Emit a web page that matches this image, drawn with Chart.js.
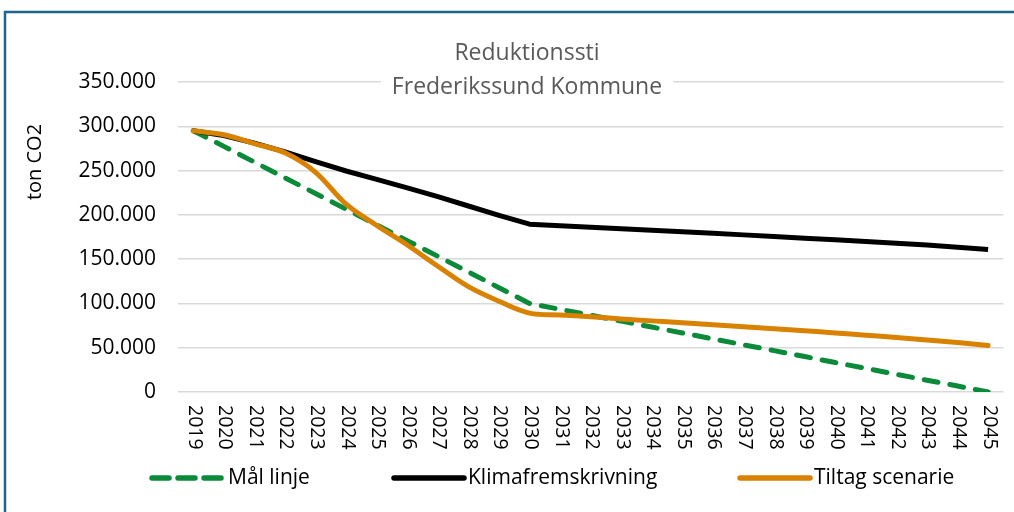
<!DOCTYPE html>
<html><head><meta charset="utf-8">
<script src="https://cdn.jsdelivr.net/npm/chart.js@4/dist/chart.umd.min.js"></script>
<style>html,body{margin:0;padding:0;background:#fff;}#wrap{width:1014px;height:512px;position:relative}</style>
</head><body><div id="wrap"><canvas id="c" width="1014" height="512"></canvas></div>
<script>
const years = ['2019','2020','2021','2022','2023','2024','2025','2026','2027','2028','2029','2030','2031','2032','2033','2034','2035','2036','2037','2038','2039','2040','2041','2042','2043','2044','2045'];
const maalLinje = [295000,277300,259500,241800,224100,206400,188600,170900,153200,135500,117700,100000,93300,86700,80000,73300,66700,60000,53300,46700,40000,33300,26700,20000,13300,6700,0];
const klimafremskrivning = [295000,289500,281000,271000,260000,249500,240000,230500,220500,210000,199500,189500,187800,186100,184400,182700,181000,179200,177400,175600,173700,171800,169900,167900,165900,163500,161000];
const tiltagScenarie = [295000,290500,280500,270000,248000,212000,188000,166000,142000,119000,102500,89000,87000,85000,82500,80300,78100,75900,73700,71400,69100,66700,64200,61600,58800,55800,52500];
const yTickValues = [0,50000,100000,150000,200000,250000,300000,350000];
const titleLines = ['Reduktionssti','Frederikssund Kommune'];
const yAxisTitle = 'ton CO2';
const seriesNames = ['Mål linje','Klimafremskrivning','Tiltag scenarie'];

const FONT = "'Open Sans', Lato, sans-serif";
const GREEN = '#0b8a3a', BLACK = '#000000', ORANGE = '#d98200';
Chart.defaults.font.family = FONT;

function fmt(v){ return String(v).replace(/\B(?=(\d{3})+(?!\d))/g,'.'); }

const custom = {
  id:'custom',
  afterDraw(chart){
    const ctx = chart.ctx, xs = chart.scales.x;
    ctx.save();
    // x labels rotated clockwise
    ctx.fillStyle = '#000';
    ctx.font = '19.5px ' + FONT;
    ctx.textAlign = 'left'; ctx.textBaseline = 'middle';
    years.forEach((y,i)=>{
      const px = xs.getPixelForTick(i);
      ctx.save(); ctx.translate(px+1, 405); ctx.rotate(Math.PI/2); ctx.fillText(y,0,0); ctx.restore();
    });
    // title
    ctx.font = '23px ' + FONT;
    ctx.textAlign = 'center';
    const cx = 527;
    const w2 = ctx.measureText(titleLines[1]).width;
    ctx.fillStyle = '#fff';
    ctx.fillRect(cx - w2/2 - 11, 74, w2 + 22, 26);
    ctx.fillStyle = '#595959';
    ctx.fillText(titleLines[0], cx, 53);
    ctx.fillText(titleLines[1], cx, 87);
    // y axis title
    ctx.save();
    ctx.translate(35, 162); ctx.rotate(-Math.PI/2);
    ctx.fillStyle = '#000'; ctx.font = '20px ' + FONT;
    ctx.fillText(yAxisTitle, 0, 0);
    ctx.restore();
    // legend
    const items = [
      {x0:152, x1:221, color:GREEN, dash:[17,9], tx:228, name:seriesNames[0]},
      {x0:394, x1:464, color:BLACK, dash:[], tx:468, name:seriesNames[1]},
      {x0:740, x1:810, color:ORANGE, dash:[], tx:814, name:seriesNames[2]}
    ];
    const ly = 478;
    ctx.font = '21px ' + FONT;
    ctx.textAlign = 'left';
    items.forEach(it=>{
      ctx.save();
      ctx.strokeStyle = it.color; ctx.lineWidth = 5.5; ctx.lineCap = 'round';
      ctx.setLineDash(it.dash);
      ctx.beginPath(); ctx.moveTo(it.x0, ly); ctx.lineTo(it.x1, ly); ctx.stroke();
      ctx.restore();
      ctx.fillStyle = '#000';
      ctx.fillText(it.name, it.tx, ly);
    });
    // frame
    ctx.strokeStyle = '#21658f'; ctx.lineWidth = 2.5;
    ctx.strokeRect(5, 12, 1030, 530);
    ctx.restore();
  }
};

new Chart(document.getElementById('c'), {
  type:'line',
  data:{
    labels: years,
    datasets:[
      {label:seriesNames[0], data:maalLinje, borderColor:GREEN, borderWidth:5, borderDash:[14,12], borderCapStyle:'round', pointRadius:0, tension:0, order:3},
      {label:seriesNames[1], data:klimafremskrivning, borderColor:BLACK, borderWidth:5, pointRadius:0, tension:0, borderJoinStyle:'round', order:2},
      {label:seriesNames[2], data:tiltagScenarie, borderColor:ORANGE, borderWidth:5, pointRadius:0, tension:0.35, borderCapStyle:'round', order:1}
    ]
  },
  options:{
    responsive:false, animation:false, devicePixelRatio:1,
    layout:{padding:{top:82,right:5,bottom:0,left:0}},
    plugins:{legend:{display:false}, title:{display:false}, tooltip:{enabled:false}},
    scales:{
      x:{
        type:'category', offset:true,
        grid:{display:false}, border:{display:false},
        ticks:{autoSkip:false, maxRotation:90, minRotation:90, color:'rgba(0,0,0,0)', font:{size:19}},
        afterFit(s){ s.height = 120; }
      },
      y:{
        min:0, max:350000,
        afterBuildTicks(s){ s.ticks = yTickValues.map(v=>({value:v})); },
        grid:{color:'#d9d9d9', lineWidth:1.5, drawTicks:false},
        border:{display:false},
        ticks:{padding:22, color:'#000', font:{size:21}, callback:(v)=>fmt(v)},
        afterFit(s){ s.width = 178; }
      }
    }
  },
  plugins:[custom]
});
</script></body></html>
